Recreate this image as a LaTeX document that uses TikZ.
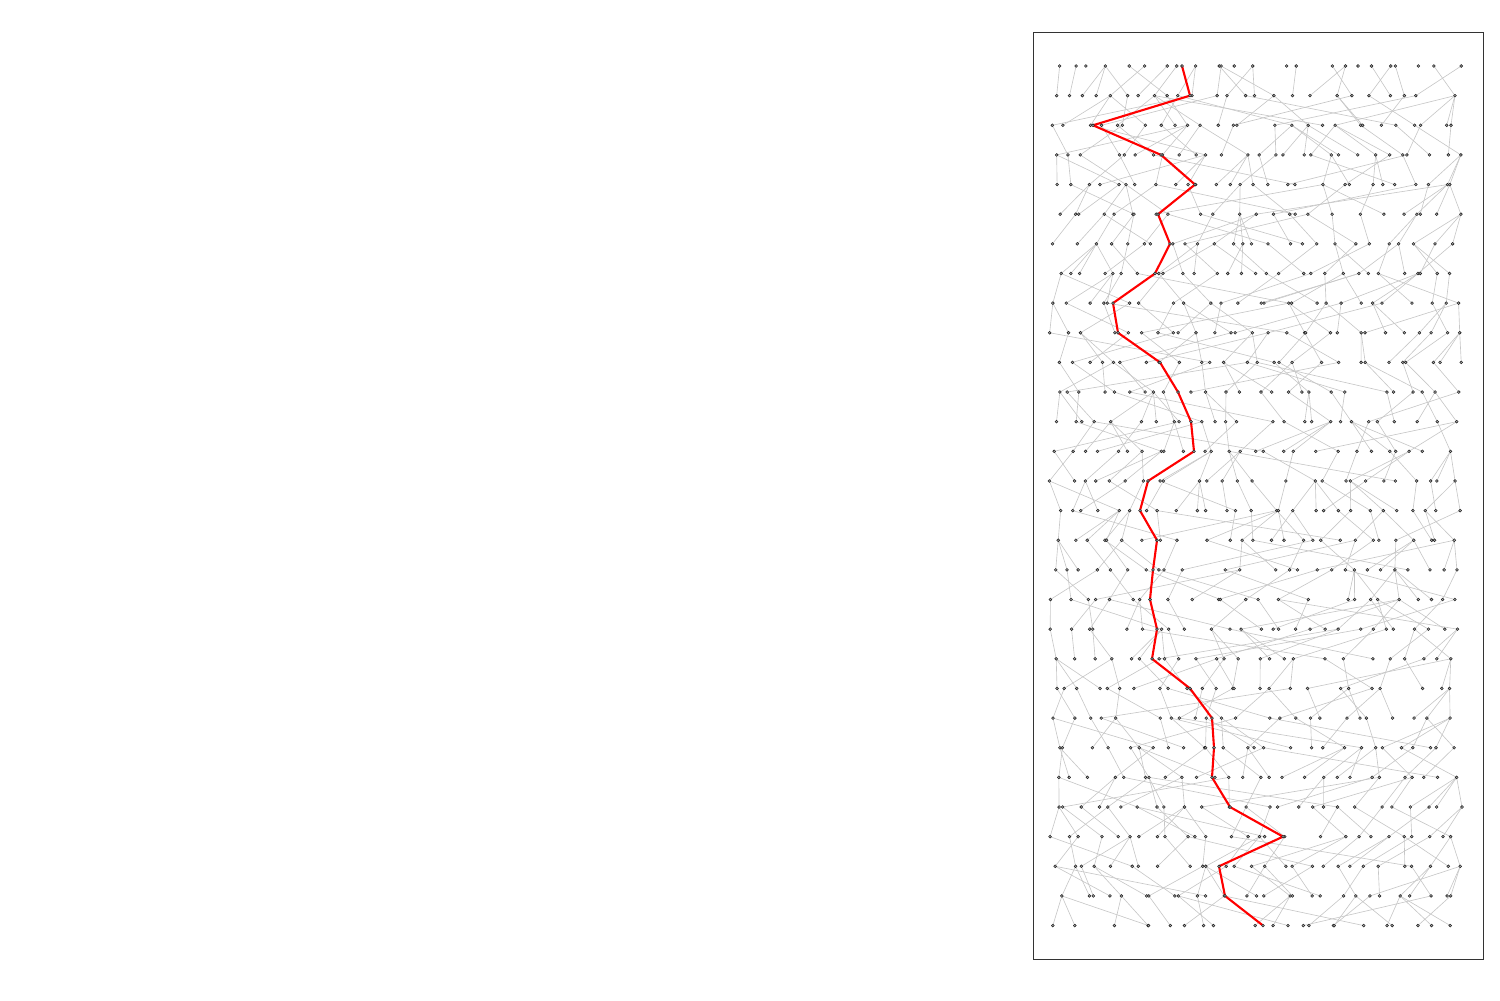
\documentclass[tikz,border=0pt]{standalone}
\begin{document}
\begin{tikzpicture}[x=0.05cm,y=-0.05cm,
  edge/.style={draw=black!22,line width=0.9pt},
  redpath/.style={draw=red,line width=3pt,line join=round,line cap=round},
  dot/.style={circle,draw=black!85,fill=black!30,line width=0.8pt,inner sep=0pt,minimum size=4pt},
  frame/.style={draw=black!80,line width=1.3pt}]
\useasboundingbox (0,0) rectangle (1500,1000);
\draw[frame] (1033,32) rectangle (1483,959);
\pgfmathsetseed{4711}
% slot positions and existence
\foreach \r in {0,...,29}{
  \pgfmathsetmacro\yy{66+\r*29.64}
  \foreach \i in {0,...,28}{
    \pgfmathsetmacro\xx{1048+(\i+rnd)*14.3}
    \pgfmathtruncatemacro\ex{rnd<0.8?1:0}
    \expandafter\xdef\csname ex-\r-\i\endcsname{\ex}
    \coordinate (c-\r-\i) at (\xx,\yy);
  }
}
% gray connectors, child to parent in the row above
\foreach \r [evaluate=\r as \p using int(\r-1)] in {29,28,...,1}{
  \foreach \i in {0,...,28}{
    \ifnum\csname ex-\r-\i\endcsname=1\relax
      \pgfmathsetmacro\pa{rnd}
      \pgfmathsetmacro\pb{rnd}
      \pgfmathtruncatemacro\j{\pa<0.7 ? \i+round((\pb-0.5)*6.5) : \i+round((\pb-0.5)*26)}
      \pgfmathtruncatemacro\j{max(0,min(28,\j))}
      \expandafter\xdef\csname ex-\p-\j\endcsname{1}
      \draw[edge] (c-\r-\i) -- (c-\p-\j);
    \fi
  }
}
% red path
\foreach \x [count=\k from 0] in {1182,1190,1093,1161,1195,1158,1170,1155,1113,1118,1160,1178,1191,1194,1148,1140,1157,1153,1150,1157,1152,1190,1212,1214,1212,1230,1283,1219,1225,1263}{
  \coordinate (rp-\k) at (\x,66+\k*29.64);
}
\draw[redpath] (rp-0) \foreach \k in {1,...,29}{ -- (rp-\k)};
% dots
\foreach \r in {0,...,29}{
  \foreach \i in {0,...,28}{
    \ifnum\csname ex-\r-\i\endcsname=1\relax
      \node[dot] (d-\r-\i) at (c-\r-\i) {};
    \fi
  }
}
\foreach \k in {0,...,29}{
  \node[dot] (rd-\k) at (rp-\k) {};
}
\end{tikzpicture}
\end{document}
